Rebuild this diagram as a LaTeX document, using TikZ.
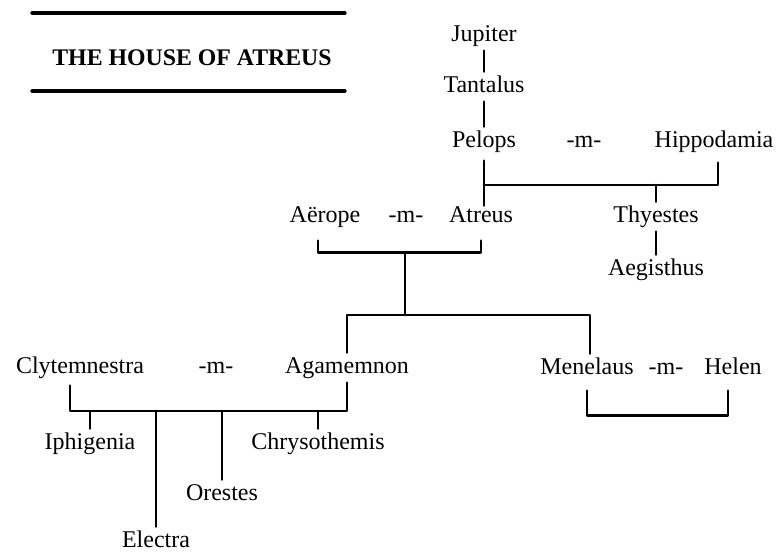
\documentclass[tikz,border=0pt]{standalone}
\usepackage{fontspec}
\setmainfont{Liberation Serif}
\usetikzlibrary{positioning}
\tikzset{
  every picture/.append style={line cap=round,line join=round},
  house person/.style={anchor=base,inner xsep=0pt,inner ysep=2pt,text height=8pt,text depth=2.6pt,font=\fontsize{12}{14}\selectfont},
  house wed/.style={house person},
  house title/.style={anchor=base,inner sep=0pt,font=\fontsize{11.9}{14}\selectfont\bfseries},
  house line/.style={line width=1.35pt},
  house rule/.style={line width=1.6pt}
}
\begin{document}
\begin{tikzpicture}[x=0.5pt,y=-0.5pt]
  \useasboundingbox (0,0) rectangle (777,553);
  % title block
  \draw[house rule] (32,13) -- (345,13);
  \node[house title] (title) at (192,65) {THE HOUSE OF ATREUS};
  \draw[house rule] (32,91) -- (345,91);

  % Jupiter down to Pelops
  \node[house person] (jupiter)    at (484,41)  {Jupiter};
  \node[house person] (tantalus)   at (484,92)  {Tantalus};
  \node[house person] (pelops)     at (484,147) {Pelops};
  \node[house wed]    (wed pelops) at (584,147) {-m-};
  \node[house person] (hippodamia) at (714,147) {Hippodamia};
  \draw[house line] (jupiter) -- (tantalus);
  \draw[house line] (tantalus) -- (pelops);

  % sons of Pelops
  \node[house person] (aerope)     at (325,222) {Aërope};
  \node[house wed]    (wed atreus) at (406,222) {-m-};
  \node[house person] (atreus)     at (481,222) {Atreus};
  \node[house person] (thyestes)   at (656,222) {Thyestes};
  \node[house person] (aegisthus)  at (656,275) {Aegisthus};
  \coordinate (pelops bar) at (484,185);
  \draw[house line,shorten <=2pt,shorten >=-2pt] (pelops.south) -- (pelops.south |- atreus.north);
  \draw[house line,shorten >=3pt] (pelops bar) -| ([xshift=2pt]hippodamia.south);
  \draw[house line] (thyestes.north) -- (thyestes.north |- pelops bar);
  \draw[house line] (thyestes) -- (aegisthus);

  % Atreus -m- Aerope
  \draw[house line,shorten <=4.5pt,shorten >=4.5pt] ([xshift=-3.5pt]aerope.south) -- ++(0,21) -| (atreus.south);
  \coordinate (atreus bar) at (405,252);
  \coordinate (sons bar) at (405,315);
  \draw[house line] (atreus bar) -- (sons bar);

  % Agamemnon -m- Clytemnestra
  \node[house person] (clytemnestra) at (80,373)  {Clytemnestra};
  \node[house wed]    (wed agam)     at (216,373) {-m-};
  \node[house person] (agamemnon)    at (347,373) {Agamemnon};
  \node[house person] (iphigenia)    at (90,449)  {Iphigenia};
  \node[house person] (electra)      at (156,547) {Electra};
  \node[house person] (orestes)      at (222,500) {Orestes};
  \node[house person] (chrysothemis) at (318,449) {Chrysothemis};
  \coordinate (clyt bar) at (200,411);
  \draw[house line,shorten <=1.5pt] ([xshift=-5pt]clytemnestra.south) |- (clyt bar) -| (agamemnon.south);
  \foreach \kid in {iphigenia,electra,orestes,chrysothemis}
    \draw[house line] (\kid.north) -- (\kid.north |- clyt bar);

  % Menelaus -m- Helen
  \node[house person] (menelaus) at (587,374) {Menelaus};
  \node[house wed]    (wed men)  at (666,374) {-m-};
  \node[house person] (helen)    at (733,374) {Helen};
  \draw[house line] (agamemnon.north) |- (sons bar) -| ([xshift=1.5pt]menelaus.north);
  \draw[house line,shorten <=3.5pt,shorten >=3.5pt] (menelaus.south) -- ++(0,32) -| ([xshift=-2.5pt]helen.south);
\end{tikzpicture}
\end{document}
